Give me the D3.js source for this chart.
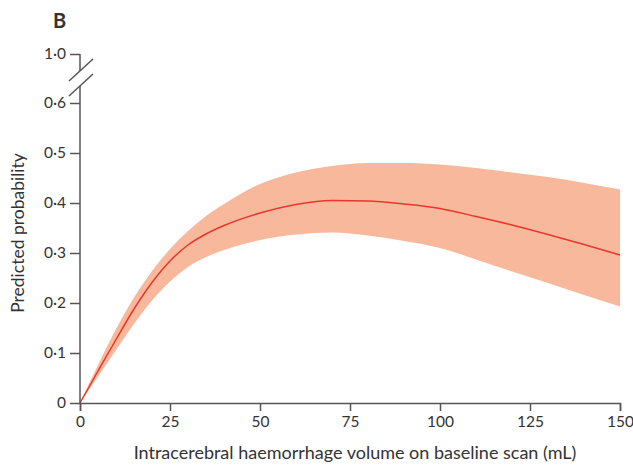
<!DOCTYPE html>
<html>
<head>
    <meta charset="utf-8">
    <script src="https://d3js.org/d3.v7.min.js"></script>
    <style>
        body { margin: 0; background: #fff; }
        svg text { font-family: Lato, "Open Sans", sans-serif; fill: #333; }
    </style>
</head>
<body>
    <svg id="chart" width="633" height="467"></svg>

    <script>
        // ICH volume (mL) and predicted probability with 95% band
        const volume = [0, 5, 10, 15, 20, 25, 30, 35, 40, 50, 60, 70, 80, 90, 100, 110, 120, 130, 140, 150];
        const predicted = [0, 0.064, 0.127, 0.188, 0.241, 0.284, 0.316, 0.338, 0.355, 0.38, 0.397, 0.405, 0.404, 0.398, 0.389, 0.373, 0.356, 0.337, 0.317, 0.296];
        const upper = [0, 0.076, 0.148, 0.211, 0.264, 0.308, 0.344, 0.374, 0.398, 0.438, 0.461, 0.474, 0.48, 0.48, 0.477, 0.47, 0.461, 0.452, 0.44, 0.427];
        const lower = [0, 0.053, 0.106, 0.158, 0.205, 0.243, 0.272, 0.292, 0.306, 0.326, 0.337, 0.341, 0.335, 0.324, 0.31, 0.287, 0.263, 0.24, 0.216, 0.193];

        const xTicks = [0, 25, 50, 75, 100, 125, 150];
        const yTicks = [0, 0.1, 0.2, 0.3, 0.4, 0.5, 0.6, 1.0];

        const svg = d3.select("svg");
        const axisColor = "#555";

        const x = d3.scaleLinear().domain([0, 150]).range([80, 620]);
        // broken axis: 0-0.6 linear, then a short jump to 1.0
        const y = d3.scaleLinear().domain([0, 0.6, 1.0]).range([403, 103, 54]);

        const data = volume.map((v, i) => ({ v: v, p: predicted[i], hi: upper[i], lo: lower[i] }));

        // confidence band
        svg.append("path")
            .datum(data)
            .attr("fill", "#f8b89c")
            .attr("d", d3.area()
                .x(d => x(d.v))
                .y0(d => y(d.lo))
                .y1(d => y(d.hi))
                .curve(d3.curveMonotoneX));

        // predicted line
        svg.append("path")
            .datum(data)
            .attr("fill", "none")
            .attr("stroke", "#e8372c")
            .attr("stroke-width", 1.5)
            .attr("d", d3.line()
                .x(d => x(d.v))
                .y(d => y(d.p))
                .curve(d3.curveMonotoneX));

        const fmt = d => d === 0 ? "0" : d3.format(".1f")(d).replace(".", "\u00b7");

        // x axis
        const xAxis = svg.append("g")
            .attr("transform", "translate(0,403)")
            .call(d3.axisBottom(x).tickValues(xTicks).tickSize(8).tickPadding(5).tickFormat(d => d));
        xAxis.select(".domain").attr("stroke", axisColor).attr("stroke-width", 1.5);

        // y axis
        const yAxis = svg.append("g")
            .attr("transform", "translate(80,0)")
            .call(d3.axisLeft(y).tickValues(yTicks).tickSize(10).tickPadding(4).tickFormat(fmt));
        yAxis.select(".domain").remove();

        svg.selectAll(".tick line").attr("stroke", axisColor).attr("stroke-width", 1.5);
        svg.selectAll(".tick text").attr("font-size", 15.5).style("fill", "#333");

        // axis line with the break marks
        svg.append("line").attr("x1", 80).attr("x2", 80).attr("y1", y(1.0)).attr("y2", 71)
            .attr("stroke", axisColor).attr("stroke-width", 1.5);
        svg.append("line").attr("x1", 80).attr("x2", 80).attr("y1", 86).attr("y2", y(0))
            .attr("stroke", axisColor).attr("stroke-width", 1.5);
        [[69, 81, 93, 59], [69, 96, 93, 74]].forEach(s => {
            svg.append("line")
                .attr("x1", s[0]).attr("y1", s[1]).attr("x2", s[2]).attr("y2", s[3])
                .attr("stroke", axisColor).attr("stroke-width", 1.5);
        });

        // titles
        svg.append("text")
            .attr("x", 355).attr("y", 459)
            .attr("text-anchor", "middle")
            .attr("font-size", 18)
            .text("Intracerebral haemorrhage volume on baseline scan (mL)");

        svg.append("text")
            .attr("transform", "translate(24,233) rotate(-90)")
            .attr("text-anchor", "middle")
            .attr("font-size", 17.5)
            .text("Predicted probability");

        svg.append("text")
            .attr("x", 53).attr("y", 28)
            .attr("font-size", 20)
            .attr("font-weight", "bold")
            .text("B");
    </script>
</body>
</html>
